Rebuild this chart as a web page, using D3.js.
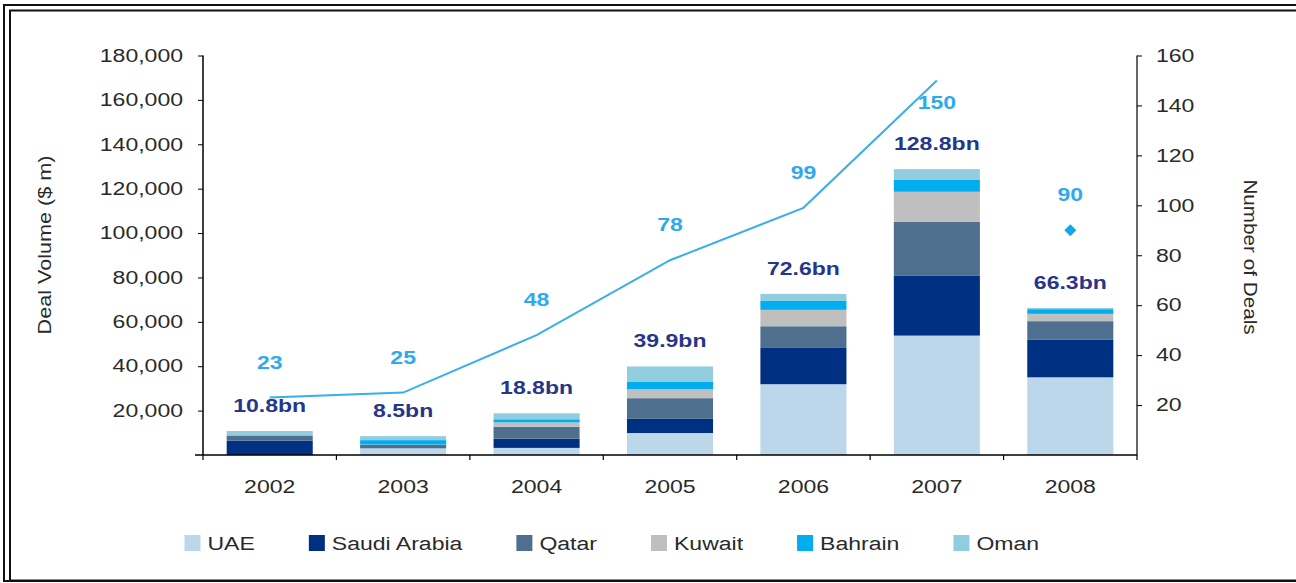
<!DOCTYPE html>
<html>
<head>
<meta charset="utf-8">
<script src="https://cdn.jsdelivr.net/npm/d3@7"></script>
<style>
  body { margin: 0; background: #fff; }
  svg { display: block; font-family: "Liberation Sans", Arial, sans-serif; }
</style>
</head>
<body>
<svg id="chart" width="1296" height="583"></svg>
<script>
// deal volume by country, $ m
var years = ['2002', '2003', '2004', '2005', '2006', '2007', '2008'],
    countries = ['UAE', 'Saudi Arabia', 'Qatar', 'Kuwait', 'Bahrain', 'Oman'],
    uae     = [0,    3000, 3200, 9900, 31900, 53800, 35000],
    saudi   = [6500, 0,    4200, 6400, 16600, 27100, 16900],
    qatar   = [2300, 1600, 5300, 9300, 9500,  24100, 8400],
    kuwait  = [0,    100,  2000, 4100, 7400,  13600, 3300],
    bahrain = [0,    2000, 1400, 3200, 4200,  5300,  2100],
    oman    = [2000, 1800, 2700, 7000, 3000,  4900,  600],
    deals   = [23, 25, 48, 78, 99, 150, 90],
    ytdYear = '2008',
    volumeTicks = [20000, 40000, 60000, 80000, 100000, 120000, 140000, 160000, 180000],
    dealTicks = [20, 40, 60, 80, 100, 120, 140, 160];

var colors = ['#bdd7ea', '#003082', '#4f6f8f', '#bfbfbf', '#00adef', '#92cddf'],
    lineColor = '#3aaeea',
    labelNavy = '#27368a',
    sx = 1.28,
    svg = d3.select('#chart');

var rows = years.map(function(y, i) {
    return {
        year: y, 'UAE': uae[i], 'Saudi Arabia': saudi[i], 'Qatar': qatar[i],
        'Kuwait': kuwait[i], 'Bahrain': bahrain[i], 'Oman': oman[i], deals: deals[i]
    };
});

// frame
svg.append('rect').attr('x', 4).attr('y', 5).attr('width', 1300).attr('height', 576)
    .attr('fill', 'none').attr('stroke', '#111').attr('stroke-width', 2);
svg.append('rect').attr('x', 10).attr('y', 10.5).attr('width', 1300).attr('height', 570)
    .attr('fill', 'none').attr('stroke', '#111').attr('stroke-width', 2);

var x = d3.scaleBand().domain(years).range([203, 1137]).paddingInner(0.355).paddingOuter(0.1775),
    y = d3.scaleLinear().domain([0, 180000]).range([455, 55.5]),
    y2 = d3.scaleLinear().domain([0, 160]).range([455, 55.5]),
    cx = function(d) { return x(d) + x.bandwidth() / 2; };

var stack = d3.stack().keys(countries)(rows);

svg.append('g').selectAll('g')
    .data(stack)
    .enter().append('g')
    .attr('fill', function(d, i) { return colors[i]; })
    .selectAll('rect')
    .data(function(d) { return d; })
    .enter().append('rect')
    .attr('x', function(d) { return x(d.data.year); })
    .attr('width', x.bandwidth())
    .attr('y', function(d) { return y(d[1]); })
    .attr('height', function(d) { return y(d[0]) - y(d[1]); });

function stretchLabels(g) {
    g.selectAll('.tick text')
        .attr('transform', 'scale(' + sx + ',1)')
        .attr('x', function() { return +this.getAttribute('x') / sx; });
}

function label(parent, px, py, txt) {
    return parent.append('text')
        .attr('transform', 'translate(' + px + ',' + py + ') scale(' + sx + ',1)')
        .text(txt);
}

// axes
var left = svg.append('g').attr('transform', 'translate(203,0)')
    .call(d3.axisLeft(y).tickValues(volumeTicks).tickSize(5).tickPadding(15)
        .tickFormat(d3.format(',')));
left.select('.domain').attr('stroke', '#000').attr('stroke-width', 1.5).attr('d', 'M0,55.5V455');
left.selectAll('.tick text').attr('font-size', 18).attr('fill', '#2a2a2a');
stretchLabels(left);

var right = svg.append('g').attr('transform', 'translate(1137,0)')
    .call(d3.axisRight(y2).tickValues(dealTicks).tickSize(5).tickPadding(14));
right.select('.domain').attr('stroke', '#333').attr('stroke-width', 1.5).attr('d', 'M0,55.5V455');
right.selectAll('.tick text').attr('font-size', 18).attr('fill', '#2a2a2a');
stretchLabels(right);

var bottom = svg.append('g').attr('transform', 'translate(0,455)');
bottom.append('line').attr('x1', 195).attr('x2', 1137).attr('stroke', '#000').attr('stroke-width', 1.5);
bottom.selectAll('.tk')
    .data(years.concat(['end']))
    .enter().append('line')
    .attr('x1', function(d, i) { return i < years.length ? x(d) - x.step() * 0.1775 : 1137; })
    .attr('x2', function(d, i) { return i < years.length ? x(d) - x.step() * 0.1775 : 1137; })
    .attr('y2', 5).attr('stroke', '#000').attr('stroke-width', 1.2);
bottom.selectAll('.yr')
    .data(years)
    .enter().append('text')
    .attr('transform', function(d) { return 'translate(' + cx(d) + ',38) scale(' + sx + ',1)'; })
    .attr('text-anchor', 'middle').attr('font-size', 18).attr('fill', '#2a2a2a')
    .text(function(d) { return d; });

// axis titles
svg.append('text')
    .attr('transform', 'translate(51,245) rotate(-90) scale(1.2,1)')
    .attr('text-anchor', 'middle').attr('font-size', 18).attr('fill', '#2a2a2a')
    .text('Deal Volume ($ m)');
svg.append('text')
    .attr('transform', 'translate(1244,257) rotate(90) scale(1.15,1)')
    .attr('text-anchor', 'middle').attr('font-size', 18).attr('fill', '#2a2a2a')
    .text('Number of Deals');

// total labels
var labels = svg.append('g').attr('font-size', 18).attr('font-weight', 'bold')
    .attr('text-anchor', 'middle');
rows.forEach(function(r) {
    var total = d3.sum(countries, function(c) { return r[c]; });
    label(labels, cx(r.year), y(total) - 19, (total / 1000).toFixed(1) + 'bn')
        .attr('fill', labelNavy);
});

// number of deals
var line = d3.line()
    .defined(function(d) { return d.year !== ytdYear; })
    .x(function(d) { return cx(d.year); })
    .y(function(d) { return y2(d.deals); });
svg.append('path')
    .datum(rows)
    .attr('d', line)
    .attr('fill', 'none').attr('stroke', lineColor).attr('stroke-width', 2);

svg.selectAll('.ytd')
    .data(rows.filter(function(d) { return d.year === ytdYear; }))
    .enter().append('path')
    .attr('d', d3.symbol(d3.symbolSquare, 72))
    .attr('transform', function(d) {
        return 'translate(' + cx(d.year) + ',' + y2(d.deals) + ') rotate(45)';
    })
    .attr('fill', '#1aa3e8');

var maxDeals = d3.max(deals);
rows.forEach(function(r) {
    var py = r.deals === maxDeals ? y2(r.deals) + 29 : y2(r.deals) - 29;
    label(labels, cx(r.year), py, r.deals).attr('fill', '#2eaaec');
});

// legend
var legend = svg.append('g').attr('font-size', 18).attr('fill', '#2a2a2a'),
    lx = 184.5;
countries.forEach(function(c, i) {
    legend.append('rect').attr('x', lx).attr('y', 535).attr('width', 16).attr('height', 16)
        .attr('fill', colors[i]);
    var t = label(legend, lx + 23, 550, c);
    lx += 23 + t.node().getComputedTextLength() * sx + 54;
});
</script>
</body>
</html>
